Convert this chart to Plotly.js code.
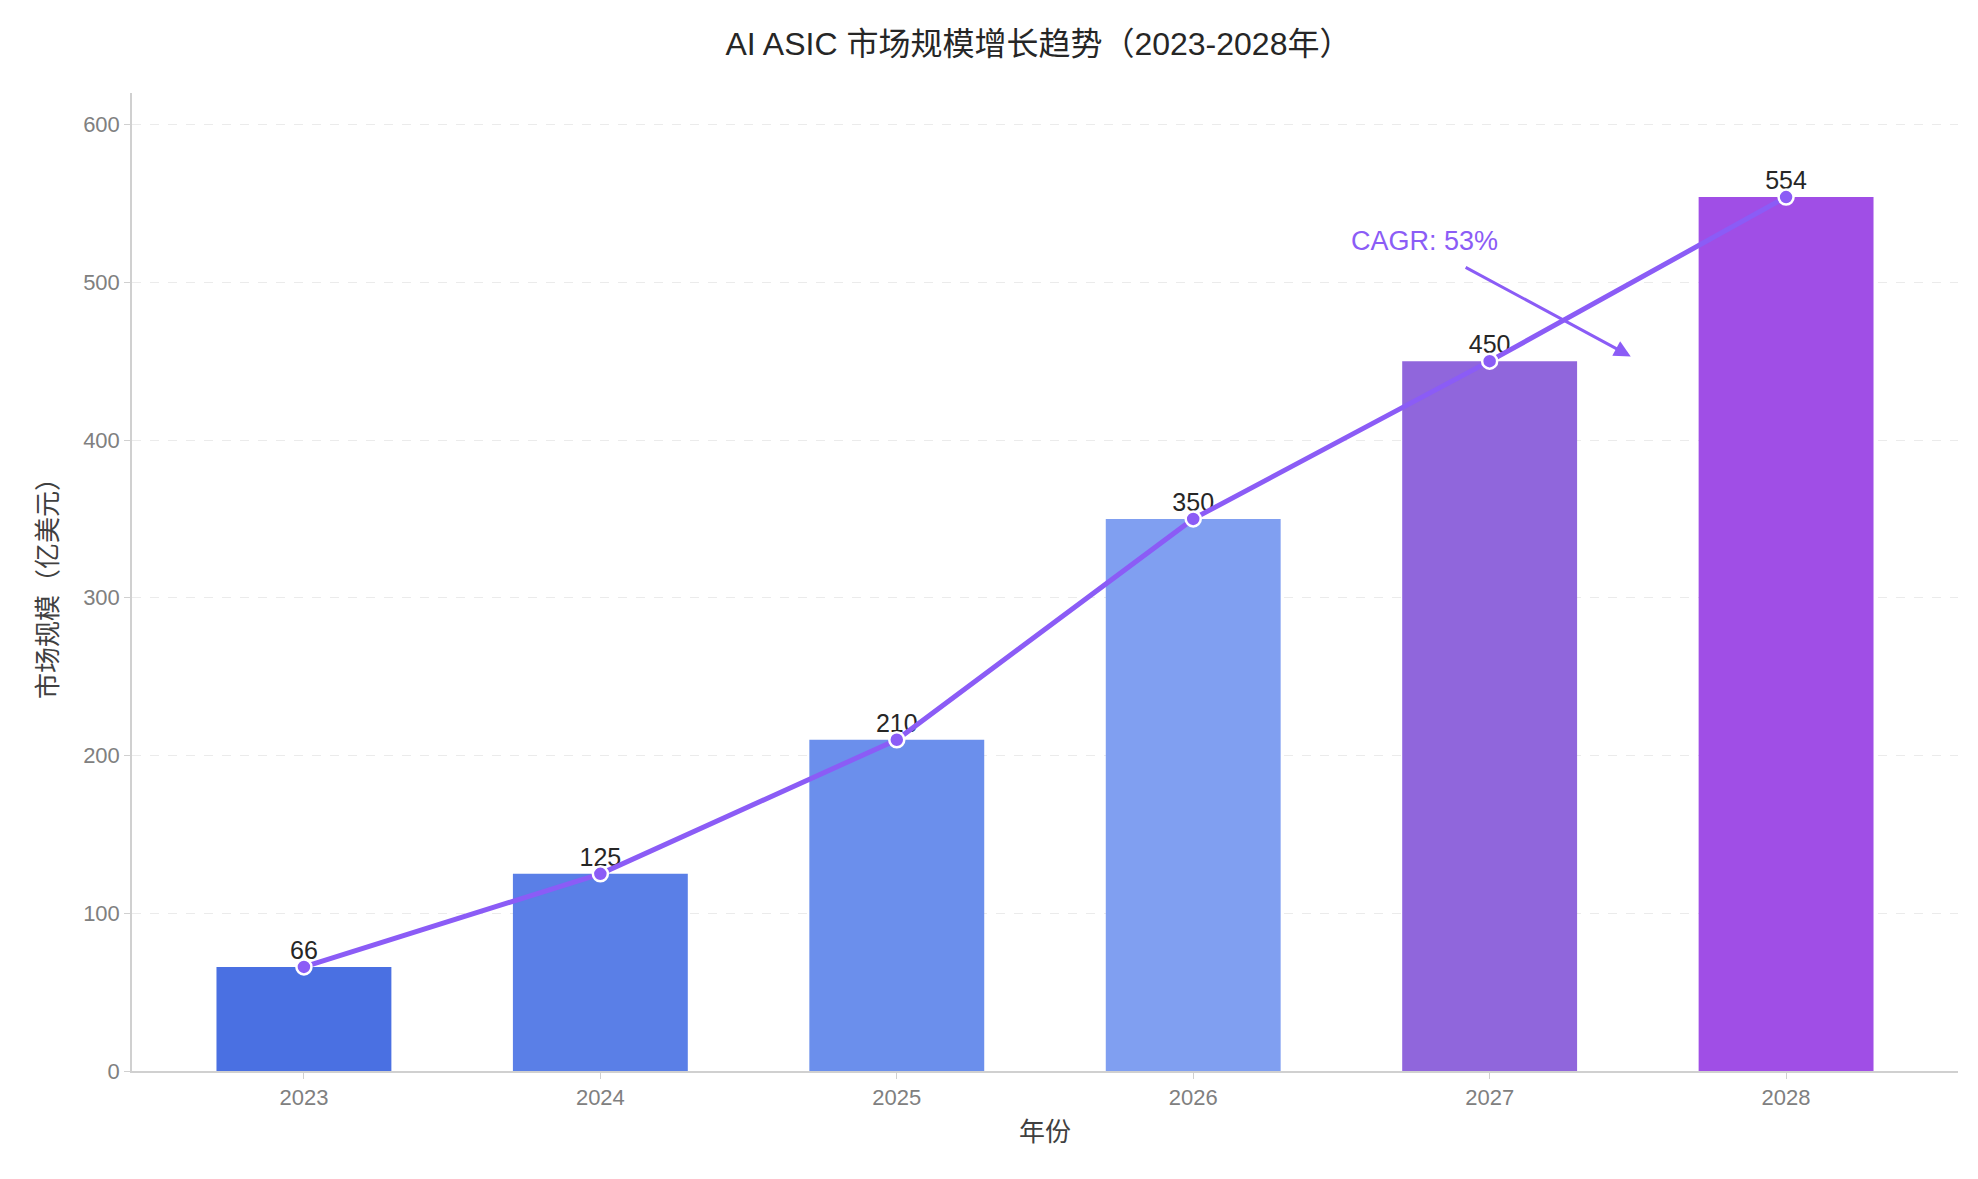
<!DOCTYPE html>
<html>
<head>
<meta charset="utf-8">
<script src="https://cdn.plot.ly/plotly-3.0.1.min.js"></script>
<style>body{margin:0;background:#fff}</style>
</head>
<body>
<div id="chart" style="width:1978px;height:1179px"></div>
<script>
    let years = ['2023', '2024', '2025', '2026', '2027', '2028'];
    let sizes = [66, 125, 210, 350, 450, 554];
    let barColors = ['#4a70e2', '#5a7fe7', '#6b8fec', '#809ff1', '#9066dc', '#a04ee6'];
    let cagrLabel = 'CAGR: 53%';

    let font = '"Liberation Sans", Arial, "Noto Sans CJK SC", sans-serif';

    let bars = {
        type: 'bar',
        x: years,
        y: sizes,
        width: 0.59,
        marker: {color: barColors},
        text: sizes.map(String),
        textposition: 'outside',
        textfont: {size: 25, color: '#262626', family: font},
        cliponaxis: false,
        hoverinfo: 'x+y'
    };
    let line = {
        type: 'scatter',
        mode: 'lines+markers',
        x: years,
        y: sizes,
        line: {color: '#8b5cf6', width: 5},
        marker: {size: 15, color: '#8b5cf6', line: {color: '#ffffff', width: 2.5}}
    };

    let layout = {
        width: 1978,
        height: 1179,
        showlegend: false,
        paper_bgcolor: '#ffffff',
        plot_bgcolor: '#ffffff',
        margin: {l: 132, r: 20, t: 93, b: 108},
        font: {family: font},
        title: {
            text: 'AI ASIC 市场规模增长趋势（2023-2028年）',
            font: {size: 32, color: '#262626', family: font},
            x: 0.525, xanchor: 'center', y: 0.972
        },
        xaxis: {
            type: 'category',
            range: [-0.58, 5.58],
            showline: true, linecolor: '#d0d0d0', linewidth: 1.5,
            ticks: 'outside', ticklen: 6, tickcolor: '#d0d0d0',
            tickfont: {size: 22, color: '#808080'},
            title: {text: '年份', font: {size: 26, color: '#404040'}, standoff: 14}
        },
        yaxis: {
            range: [0, 620],
            dtick: 100,
            showline: true, linecolor: '#d0d0d0', linewidth: 1.5,
            ticks: 'outside', ticklen: 6, tickcolor: '#d0d0d0',
            showgrid: true, gridcolor: '#ebebeb', griddash: 'dash', gridwidth: 1.2,
            zeroline: false,
            tickfont: {size: 22, color: '#808080'},
            title: {text: '市场规模（亿美元）', font: {size: 26, color: '#404040'}, standoff: 18}
        },
        annotations: [
            {
                x: 4.476, y: 453, xref: 'x', yref: 'y',
                ax: 3.914, ay: 510, axref: 'x', ayref: 'y',
                text: '', showarrow: true,
                arrowhead: 2, arrowsize: 1.1, arrowwidth: 3, arrowcolor: '#8b5cf6'
            },
            {
                x: 3.78, y: 526, xref: 'x', yref: 'y',
                text: cagrLabel, showarrow: false,
                font: {size: 27, color: '#8b5cf6', family: font}
            }
        ]
    };

    Plotly.newPlot('chart', [bars, line], layout, {displayModeBar: false});
</script>
</body>
</html>
